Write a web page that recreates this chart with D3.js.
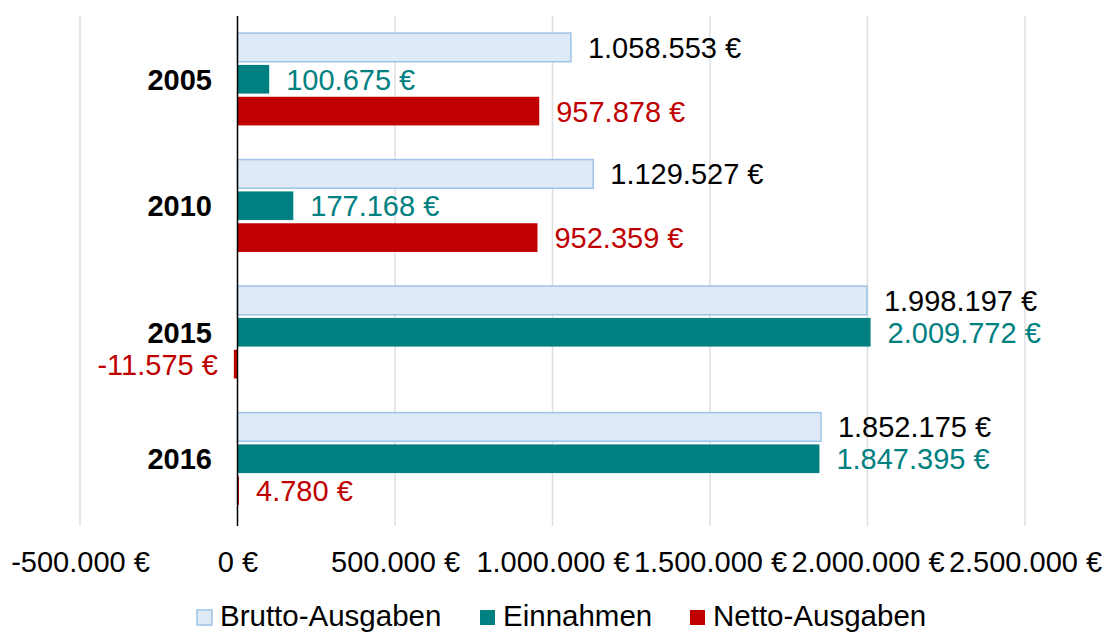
<!DOCTYPE html>
<html>
<head>
<meta charset="utf-8">
<script src="https://cdn.jsdelivr.net/npm/d3@7"></script>
<style>
  body { margin: 0; background: #fff; }
  svg { display: block; font-family: "Liberation Sans", Arial, sans-serif; }
</style>
</head>
<body>
<svg id="chart"></svg>
<script>
// data
var years = ["2005", "2010", "2015", "2016"];
var series = ["Brutto-Ausgaben", "Einnahmen", "Netto-Ausgaben"];
var brutto = [1058553, 1129527, 1998197, 1852175];
var einnahmen = [100675, 177168, 2009772, 1847395];
var netto = [957878, 952359, -11575, 4780];
var xTicks = [-500000, 0, 500000, 1000000, 1500000, 2000000, 2500000];

var width = 1109, height = 633;
var fills = {"Brutto-Ausgaben": "#deebf7", "Einnahmen": "#008080", "Netto-Ausgaben": "#c00000"};
var labelColors = {"Brutto-Ausgaben": "#000000", "Einnahmen": "#008080", "Netto-Ausgaben": "#c00000"};

var svg = d3.select("#chart").attr("width", width).attr("height", height);

// german number format: 1.058.553 €
var de = d3.formatLocale({decimal: ",", thousands: ".", grouping: [3], currency: ["", " €"]});
var fmt = function(v) { return de.format(",.0f")(v).replace("−", "-") + " €"; };

var x = d3.scaleLinear().domain([-500000, 2500000]).range([80, 1025]);
var y = d3.scaleBand().domain(years).range([16, 522]).paddingInner(0.27).paddingOuter(0.135);
var ySub = d3.scaleBand().domain(series).range([0, y.bandwidth()]).paddingInner(0.1);

// gridlines
svg.append("g").selectAll("line")
  .data(xTicks.filter(function(d) { return d !== 0; }))
  .enter().append("line")
  .attr("x1", function(d) { return x(d); })
  .attr("x2", function(d) { return x(d); })
  .attr("y1", 16).attr("y2", 526)
  .attr("stroke", "#dedede").attr("stroke-width", 1.5);

// rows of data
var rows = years.map(function(yr, i) {
  return [
    {year: yr, key: "Brutto-Ausgaben", value: brutto[i]},
    {year: yr, key: "Einnahmen", value: einnahmen[i]},
    {year: yr, key: "Netto-Ausgaben", value: netto[i]}
  ];
});

var groups = svg.append("g").selectAll("g")
  .data(rows).enter().append("g")
  .attr("transform", function(d) { return "translate(0," + y(d[0].year) + ")"; });

groups.selectAll("rect")
  .data(function(d) { return d; })
  .enter().append("rect")
  .attr("x", function(d) { return Math.min(x(0), x(d.value)); })
  .attr("y", function(d) { return ySub(d.key); })
  .attr("width", function(d) { return Math.abs(x(d.value) - x(0)); })
  .attr("height", ySub.bandwidth())
  .attr("fill", function(d) { return fills[d.key]; })
  .attr("stroke", function(d) { return d.key === "Brutto-Ausgaben" ? "#9dc3e6" : "none"; })
  .attr("stroke-width", 1.5);

// value labels
groups.selectAll("text")
  .data(function(d) { return d; })
  .enter().append("text")
  .attr("x", function(d) { return d.value < 0 ? x(d.value) - 16 : x(d.value) + 17; })
  .attr("y", function(d) { return ySub(d.key) + ySub.bandwidth() / 2; })
  .attr("dy", "0.36em")
  .attr("text-anchor", function(d) { return d.value < 0 ? "end" : "start"; })
  .attr("font-size", "29px")
  .attr("fill", function(d) { return labelColors[d.key]; })
  .text(function(d) { return fmt(d.value); });

// vertical zero axis
svg.append("line")
  .attr("x1", x(0)).attr("x2", x(0))
  .attr("y1", 16).attr("y2", 526)
  .attr("stroke", "#000").attr("stroke-width", 1.5);

// category labels
svg.append("g").selectAll("text")
  .data(years).enter().append("text")
  .attr("x", 212)
  .attr("y", function(d) { return y(d) + y.bandwidth() / 2; })
  .attr("dy", "0.36em")
  .attr("text-anchor", "end")
  .attr("font-size", "29px")
  .attr("font-weight", "bold")
  .text(function(d) { return d; });

// x axis tick labels
var xAxis = d3.axisBottom(x).tickValues(xTicks).tickSize(0).tickFormat(fmt);
var gx = svg.append("g").attr("transform", "translate(0,548)").call(xAxis);
gx.select(".domain").remove();
gx.selectAll("text")
  .attr("font-size", "29px")
  .attr("font-family", "'Liberation Sans', Arial, sans-serif")
  .attr("fill", "#000");

// legend
var legendX = [197, 480, 690];
var legend = svg.append("g").selectAll("g")
  .data(series).enter().append("g")
  .attr("transform", function(d, i) { return "translate(" + legendX[i] + ",610)"; });
legend.append("rect")
  .attr("width", 15).attr("height", 15)
  .attr("fill", function(d) { return fills[d]; })
  .attr("stroke", function(d) { return d === "Brutto-Ausgaben" ? "#9dc3e6" : "none"; })
  .attr("stroke-width", 1.5);
legend.append("text")
  .attr("x", 23).attr("y", 16)
  .attr("font-size", "29.5px")
  .text(function(d) { return d; });
</script>
</body>
</html>
